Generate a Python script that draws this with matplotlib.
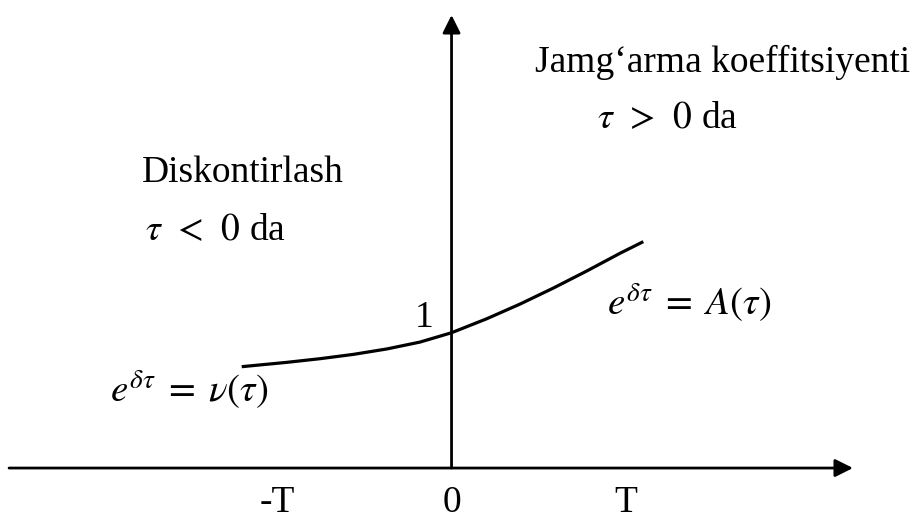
"""Diskontirlash va jamg'arma koeffitsiyenti sxemasi."""

import matplotlib

matplotlib.use("Agg")
import matplotlib.pyplot as plt

plt.rcParams["font.family"] = ["Liberation Serif", "DejaVu Serif"]
plt.rcParams["mathtext.fontset"] = "stix"

# tau (T birligida) va egri chiziq qiymatlari (tau=0 da 1)
tau = [-1.206, -0.947, -0.756, -0.564, -0.372, -0.181, 0.0,
       0.202, 0.394, 0.585, 0.777, 0.968, 1.102]
koef = [0.749, 0.781, 0.808, 0.840, 0.880, 0.931, 1.0,
        1.103, 1.212, 1.330, 1.456, 1.587, 1.673]

tick_pos = [-1, 0, 1]
tick_labels = ["-T", "0", "T"]

FS = 27
FS_MATH = 28

fig = plt.figure(figsize=(9.13, 5.25), dpi=100)
ax = fig.add_axes([0, 0, 1, 1])
ax.set_xlim(-2.595, 2.652)
ax.set_ylim(-0.421, 3.459)
ax.axis("off")

arrow = dict(arrowstyle="-|>,head_length=0.6,head_width=0.3",
             mutation_scale=18, color="black", lw=2.0,
             shrinkA=0, shrinkB=0)
# gorizontal o'q
ax.annotate("", xy=(2.307, 0.0), xytext=(-2.543, 0.0), arrowprops=arrow)
# vertikal o'q
ax.annotate("", xy=(0.0, 3.348), xytext=(0.0, 0.0), arrowprops=arrow)

ax.plot(tau, koef, color="black", lw=2.3, solid_capstyle="butt",
        solid_joinstyle="round")

for p, lab in zip(tick_pos, tick_labels):
    ax.text(p, -0.325, lab, fontsize=FS, ha="center", va="baseline")

ax.text(-0.21, 1.042, "1", fontsize=FS, ha="left", va="baseline")
ax.text(0.48, 2.927, "Jamg\u2018arma koeffitsiyenti", fontsize=FS,
        ha="left", va="baseline")
ax.text(0.836, 2.513, r"$\tau\;\,>\;\,0$ da", fontsize=FS,
        ha="left", va="baseline")
ax.text(-1.779, 2.114, "Diskontirlash", fontsize=FS,
        ha="left", va="baseline")
ax.text(-1.761, 1.685, r"$\tau\;\,<\;\,0$ da", fontsize=FS,
        ha="left", va="baseline")
ax.text(0.894, 1.131, r"$e^{\delta\tau}\;=\;A(\tau)$", fontsize=FS_MATH,
        ha="left", va="baseline")
ax.text(-1.963, 0.488, r"$e^{\delta\tau}\;=\;\nu(\tau)$", fontsize=FS_MATH,
        ha="left", va="baseline")

fig.savefig("out.png", dpi=100)
plt.close(fig)
